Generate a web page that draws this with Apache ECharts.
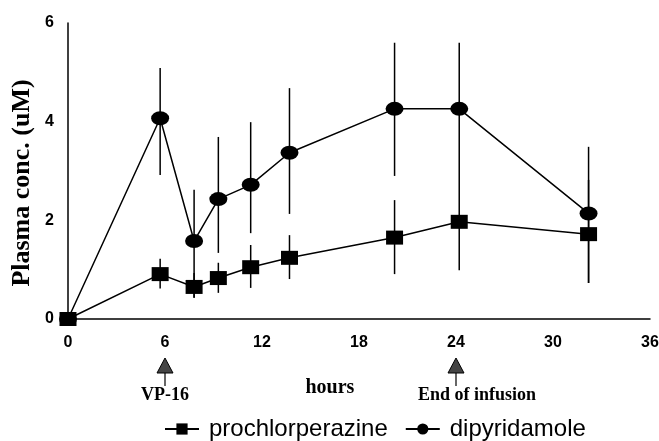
<!DOCTYPE html>
<html>
<head>
<meta charset="utf-8">
<script src="https://cdn.jsdelivr.net/npm/echarts@6/dist/echarts.min.js"></script>
<style>
  html, body { margin: 0; padding: 0; background: #fff; }
  #container { width: 659px; height: 441px; }
</style>
</head>
<body>
<div id="container"></div>
<script>
// sampling times (hours)
var hours = [0, 5.7, 7.8, 9.3, 11.3, 13.7, 20.2, 24.2, 32.2];

// prochlorperazine: mean, low, high (uM)
var pcpMean = [0, 0.91, 0.65, 0.83, 1.05, 1.24, 1.65, 1.97, 1.72];
var pcpLow  = [0, 0.62, 0.43, 0.53, 0.63, 0.81, 0.91, 0.99, 0.73];
var pcpHigh = [0, 1.22, 0.93, 1.14, 1.50, 1.70, 2.41, 2.90, 2.82];

// dipyridamole: mean, low, high (uM)
var dipMean = [0, 4.07, 1.58, 2.43, 2.72, 3.37, 4.26, 4.26, 2.14];
var dipLow  = [0, 2.92, 0.43, 1.34, 1.74, 2.13, 2.90, 2.90, 0.73];
var dipHigh = [0, 5.09, 2.62, 3.69, 3.99, 4.68, 5.60, 5.60, 3.49];

// arrows under the x axis
var events = [
  { x: 6, label: 'VP-16', dx: 0 },
  { x: 24, label: 'End of infusion', dx: 21 }
];

var dom = document.getElementById('container');
var myChart = echarts.init(dom);

function pairs(xs, ys) {
  return xs.map(function (x, i) { return [x, ys[i]]; });
}

function errData(xs, lo, hi) {
  var out = [];
  xs.forEach(function (x, i) {
    if (hi[i] > lo[i]) out.push([x, lo[i], hi[i]]);
  });
  return out;
}

function renderErr(params, api) {
  var p1 = api.coord([api.value(0), api.value(1)]);
  var p2 = api.coord([api.value(0), api.value(2)]);
  return {
    type: 'line',
    shape: { x1: p1[0], y1: p1[1], x2: p2[0], y2: p2[1] },
    style: { stroke: '#000', lineWidth: 1.5 }
  };
}

var sans = 'Arial, "Liberation Sans", sans-serif';
var serif = '"Liberation Serif", "Times New Roman", serif';
var boldSans = { fontFamily: sans, fontWeight: 'bold', fontSize: 16, color: '#000' };

var option = {
  animation: false,
  backgroundColor: '#fff',
  grid: { left: 68, right: 9, top: 23, bottom: 122, outerBoundsMode: 'none' },
  xAxis: {
    type: 'value',
    min: 0,
    max: 36,
    interval: 6,
    axisLine: { lineStyle: { color: '#000', width: 1.5 } },
    axisTick: { show: false },
    splitLine: { show: false },
    axisLabel: Object.assign({ margin: 16 }, boldSans)
  },
  yAxis: {
    type: 'value',
    min: 0,
    max: 6,
    interval: 2,
    axisLine: { show: true, lineStyle: { color: '#000', width: 1.5 } },
    axisTick: { show: false },
    splitLine: { show: false },
    axisLabel: Object.assign({ margin: 14 }, boldSans)
  },
  legend: {
    left: 164,
    top: 417,
    padding: 0,
    itemGap: 17,
    itemWidth: 34,
    itemHeight: 14,
    textStyle: { fontFamily: sans, fontSize: 24, color: '#000', padding: [0, 0, 0, 5] },
    data: ['prochlorperazine', 'dipyridamole']
  },
  series: [
    {
      name: 'prochlorperazine',
      type: 'line',
      data: pairs(hours, pcpMean),
      symbol: 'rect',
      symbolSize: [17, 14],
      itemStyle: { color: '#000' },
      lineStyle: { color: '#000', width: 1.5 },
      z: 3
    },
    {
      name: 'dipyridamole',
      type: 'line',
      data: pairs(hours, dipMean),
      symbol: 'circle',
      symbolSize: [18, 14],
      itemStyle: { color: '#000' },
      lineStyle: { color: '#000', width: 1.5 },
      z: 3
    },
    {
      type: 'custom',
      renderItem: renderErr,
      data: errData(hours, pcpLow, pcpHigh),
      encode: { x: 0, y: [1, 2] },
      z: 2
    },
    {
      type: 'custom',
      renderItem: renderErr,
      data: errData(hours, dipLow, dipHigh),
      encode: { x: 0, y: [1, 2] },
      z: 2
    }
  ]
};

myChart.setOption(option);

// annotations under the axis, placed through the x scale
var graphics = [];
events.forEach(function (ev) {
  var px = myChart.convertToPixel({ gridIndex: 0 }, [ev.x, 0])[0];
  graphics.push({
    type: 'polygon',
    shape: { points: [[px, 358], [px - 8, 373], [px + 8, 373]] },
    style: { fill: '#444', stroke: '#000', lineWidth: 1 }
  });
  graphics.push({
    type: 'line',
    shape: { x1: px, y1: 373, x2: px, y2: 386 },
    style: { stroke: '#000', lineWidth: 1.2 }
  });
  graphics.push({
    type: 'text',
    x: px + ev.dx,
    y: 395,
    style: { text: ev.label, fill: '#000', font: 'bold 18px ' + serif, align: 'center', verticalAlign: 'middle' }
  });
});
var midX = myChart.convertToPixel({ gridIndex: 0 }, [16.2, 0])[0];
graphics.push({
  type: 'text',
  x: midX,
  y: 388,
  style: { text: 'hours', fill: '#000', font: 'bold 20px ' + serif, align: 'center', verticalAlign: 'middle' }
});
// y axis title
graphics.push({
  type: 'text',
  x: 22,
  y: 183,
  rotation: Math.PI / 2,
  style: { text: 'Plasma conc. (uM)', fill: '#000', font: 'bold 26px ' + serif, align: 'center', verticalAlign: 'middle' }
});
myChart.setOption({ graphic: graphics });
</script>
</body>
</html>
